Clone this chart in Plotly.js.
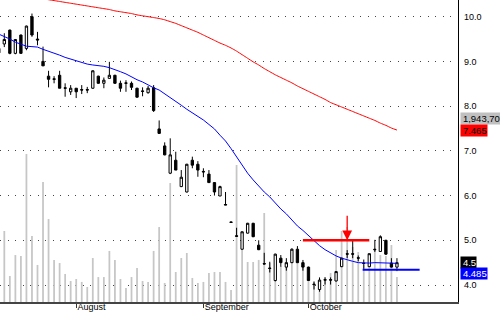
<!DOCTYPE html>
<html><head><meta charset="utf-8">
<script src="https://cdn.plot.ly/plotly-3.0.1.min.js"></script>
<style>html,body{margin:0;padding:0;background:#fff;}#c{width:500px;height:312px;}</style>
</head><body><div id="c"></div>
<script>
// ---- data ----
const monthIdx   = [14, 37, 56];
const monthNames = ['August', 'September', 'October'];

const openP  = [9.19,9.39,9.70,9.18,9.59,9.29,10.00,9.50,9.00,8.67,
                8.61,8.69,8.41,8.32,8.40,8.37,8.37,8.40,8.67,8.51,
                8.62,8.69,8.51,8.52,8.51,8.40,8.34,8.30,8.41,7.49,
                7.11,6.50,6.79,6.20,6.08,6.79,6.70,6.54,6.48,6.29,
                5.99,5.80,5.41,5.10,4.80,5.16,5.38,4.89,4.48,4.38,
                4.10,4.60,4.40,4.50,4.80,4.50,4.40,4.02,3.90,4.12,
                4.12,4.09,4.41,4.70,4.70,4.61,4.49,4.41,4.80,4.75,
                5.00,4.49,4.40];
const highP  = [9.31,9.63,9.71,9.49,9.60,9.80,10.07,9.66,9.33,8.79,
                8.67,8.79,8.51,8.47,8.40,8.47,8.43,8.80,8.68,8.64,
                8.99,8.70,8.57,8.58,8.55,8.41,8.42,8.45,8.47,7.68,
                7.19,7.28,6.98,6.57,6.71,6.87,6.77,6.61,6.57,6.30,
                6.22,6.08,5.42,5.28,5.20,5.39,5.39,5.00,4.72,4.52,
                4.70,4.67,4.60,4.82,4.87,4.56,4.41,4.08,4.17,4.17,
                4.17,4.31,4.61,4.78,5.00,4.66,4.57,4.70,5.01,5.11,
                5.01,4.60,4.60];
const lowP   = [9.18,9.32,9.16,9.16,9.17,9.25,9.55,9.36,8.90,8.42,
                8.51,8.40,8.21,8.25,8.18,8.27,8.29,8.39,8.50,8.40,
                8.62,8.50,8.32,8.32,8.36,8.19,8.22,8.28,7.87,7.39,
                6.90,6.48,6.57,6.19,6.07,6.61,6.42,6.41,6.29,6.00,
                5.99,5.79,5.39,5.08,4.79,5.15,5.07,4.78,4.46,4.28,
                4.08,4.41,4.32,4.49,4.49,4.32,4.09,3.90,3.85,4.01,
                4.01,4.08,4.40,4.60,4.60,4.53,4.36,4.40,4.74,4.74,
                4.67,4.39,4.31];
const closeP = [9.29,9.49,9.18,9.49,9.18,9.79,9.59,9.48,8.90,8.60,
                8.60,8.40,8.40,8.40,8.32,8.36,8.36,8.79,8.51,8.58,
                8.69,8.51,8.40,8.51,8.42,8.20,8.33,8.40,7.90,7.39,
                6.91,6.91,6.57,6.41,6.70,6.68,6.57,6.53,6.29,6.08,
                6.20,5.79,5.40,5.09,5.19,5.38,5.08,4.79,4.47,4.37,
                4.69,4.50,4.50,4.80,4.50,4.40,4.10,4.01,4.11,4.11,
                4.11,4.30,4.60,4.69,4.69,4.60,4.48,4.70,4.79,5.08,
                4.69,4.40,4.50];
const volume = [2330000,5520000,2020000,3650000,3580000,11510000,5130000,2880000,9330000,6450000,
                3270000,3030000,2180000,1630000,1790000,1560000,1170000,3420000,1940000,1940000,
                3970000,3270000,1790000,1090000,1940000,2640000,1630000,1560000,3970000,5830000,
                1480000,9250000,2330000,3420000,3810000,1870000,1480000,1560000,2250000,2330000,
                2330000,1560000,930000,10650000,4670000,3110000,3110000,3270000,6920000,3030000,
                3650000,2800000,2950000,3110000,3890000,2720000,1940000,1560000,1710000,1940000,
                2250000,4040000,5520000,5830000,4280000,3890000,2880000,3810000,4040000,3650000,
                3580000,4430000,1943700];
const maShort = [9.61,9.56,9.50,9.43,9.39,9.34,9.33,9.32,9.27,9.23,
                 9.18,9.14,9.09,9.05,9.01,8.97,8.94,8.92,8.91,8.89,
                 8.86,8.82,8.77,8.72,8.65,8.59,8.54,8.47,8.41,8.36,
                 8.28,8.20,8.12,8.02,7.93,7.85,7.78,7.69,7.59,7.49,
                 7.35,7.22,7.05,6.86,6.68,6.50,6.35,6.21,6.08,5.97,
                 5.83,5.70,5.59,5.45,5.32,5.22,5.10,5.00,4.88,4.79,
                 4.72,4.65,4.60,4.56,4.53,4.50,4.49,4.49,4.50,4.50,
                 4.49,4.485,4.485];
const maLong  = [10.55,10.53,10.51,10.49,10.47,10.45,10.43,10.41,10.40,10.38,
                 10.36,10.34,10.32,10.30,10.28,10.26,10.24,10.22,10.20,10.18,
                 10.16,10.13,10.11,10.09,10.07,10.04,10.02,10.00,9.98,9.96,
                 9.93,9.89,9.85,9.80,9.75,9.70,9.65,9.59,9.53,9.47,
                 9.41,9.36,9.30,9.23,9.15,9.07,8.99,8.92,8.84,8.77,
                 8.70,8.64,8.58,8.52,8.45,8.39,8.33,8.27,8.21,8.15,
                 8.08,8.03,7.98,7.93,7.88,7.83,7.78,7.73,7.68,7.62,
                 7.57,7.51,7.465];
// drawn resistance / support levels: [start index, end index, price]
const resistLevel = [55, 67, 5.0];
const supportLevel = [65.8, 76.1, 4.34];
// signal arrow: [index, price]
const signalPoint = [63, 5.0];

// ---- chart ----
const idx = closeP.map((_, i) => i);
const last = closeP.length - 1;
const fmtNum = v => String(+v.toFixed(3));
const fmtVol = v => v.toLocaleString('en-US');

const FONT = 'Liberation Sans, Arial, sans-serif';

const traces = [
  {type:'bar', x:idx, y:volume, xaxis:'x', yaxis:'y', width:0.32,
   marker:{color:'#c6c6c6', line:{width:0}}, hoverinfo:'skip'},
  {type:'scatter', mode:'lines', x:idx, y:maLong, xaxis:'x', yaxis:'y2',
   line:{color:'#ff0000', width:1, shape:'spline', smoothing:0.6}, hoverinfo:'skip'},
  {type:'scatter', mode:'lines', x:idx, y:maShort, xaxis:'x', yaxis:'y2',
   line:{color:'#0000ff', width:1}, hoverinfo:'skip'},
  {type:'scatter', mode:'lines', x:[resistLevel[0], resistLevel[1]], y:[resistLevel[2], resistLevel[2]],
   xaxis:'x', yaxis:'y2', line:{color:'#ff0000', width:2.5}, hoverinfo:'skip'},
  {type:'scatter', mode:'lines', x:[supportLevel[0], supportLevel[1]], y:[supportLevel[2], supportLevel[2]],
   xaxis:'x', yaxis:'y2', line:{color:'#0000ff', width:2}, hoverinfo:'skip', cliponaxis:false},
  {type:'candlestick', x:idx, open:openP, high:highP, low:lowP, close:closeP,
   xaxis:'x', yaxis:'y2', whiskerwidth:0,
   increasing:{line:{color:'#000', width:1}, fillcolor:'#ffffff'},
   decreasing:{line:{color:'#000', width:1}, fillcolor:'#000000'},
   hoverinfo:'skip'}
];

const labelAnn = (text, y, shift, bg, fg) => ({
  xref:'paper', x:1, xanchor:'left', xshift:1.5,
  yref:'y2', y:y, yanchor:'middle', yshift:shift,
  text:'\u2009' + text, showarrow:false, bgcolor:bg, borderpad:0,
  font:{family:FONT, size:9.5, color:fg}
});

const layout = {
  width:500, height:312,
  margin:{l:0, r:42, t:0, b:10, pad:0},
  paper_bgcolor:'#fff', plot_bgcolor:'#fff',
  showlegend:false, boxgap:0.4,
  font:{family:FONT, size:9, color:'#000'},
  xaxis:{range:[0.22, 83.04], tickmode:'array', tickvals:monthIdx, ticktext:monthNames,
         ticks:'outside', ticklen:4, tickwidth:1, tickcolor:'#333',
         ticklabelposition:'outside right', ticklabelstandoff:-4,
         showline:true, linecolor:'#444', linewidth:1.5,
         showgrid:false, zeroline:false, rangeslider:{visible:false}, fixedrange:true},
  yaxis:{range:[0, 23480000], visible:false, showgrid:false, zeroline:false, fixedrange:true},
  yaxis2:{overlaying:'y', side:'right', range:[3.62, 10.373],
          tickmode:'array', tickvals:[4,5,6,7,8,9,10], tickformat:'.1f',
          showgrid:true, gridcolor:'#444', gridwidth:1, griddash:'1px,6.5px',
          showline:true, linecolor:'#000', linewidth:1.3, ticks:'',
          ticklabelstandoff:3, zeroline:false, fixedrange:true},
  annotations:[
    labelAnn(fmtVol(volume[last]), maLong[last], 11.5, '#c0c0c0', '#000'),
    labelAnn(fmtNum(maLong[last]), maLong[last], 0, '#ff0000', '#000'),
    labelAnn(fmtNum(closeP[last]), closeP[last], 0, '#000000', '#fff'),
    labelAnn(fmtNum(maShort[last]), maShort[last], -10.5, '#0000ff', '#fff'),
    {xref:'x', yref:'y2', x:signalPoint[0], y:signalPoint[1], text:'',
     showarrow:true, arrowhead:2, arrowsize:1.5, arrowwidth:1.3, arrowcolor:'#ff0000',
     ax:0, ay:-26, standoff:0}
  ]
};

Plotly.newPlot('c', traces, layout, {staticPlot:true, displayModeBar:false});
</script>
</body></html>
